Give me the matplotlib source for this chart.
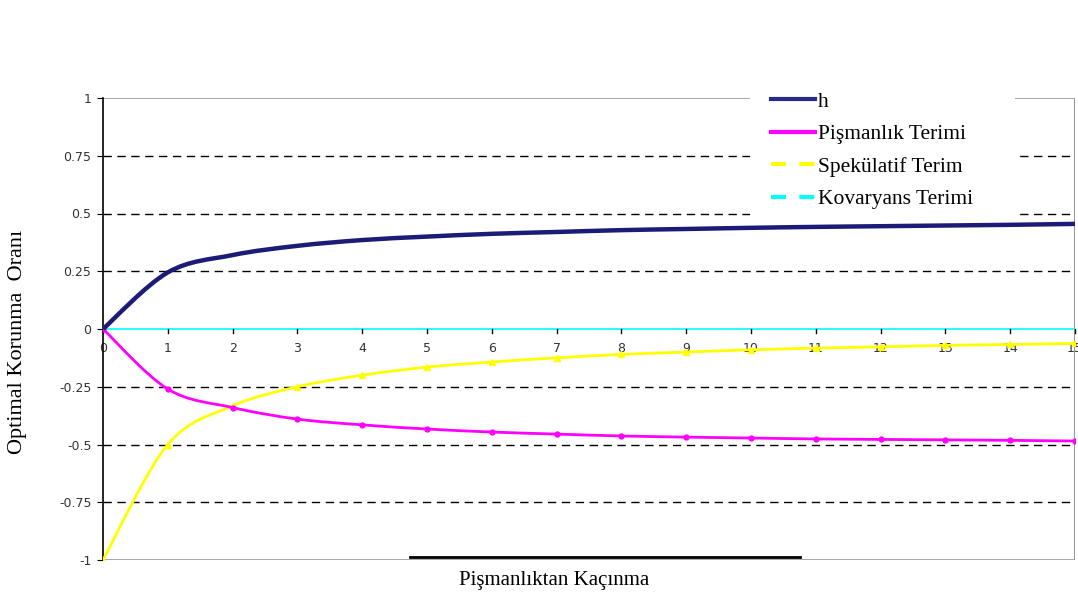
import matplotlib
matplotlib.use('Agg')

import matplotlib.pyplot as plt
import numpy as np
from matplotlib.path import Path
from matplotlib.patches import PathPatch, Rectangle
from matplotlib.lines import Line2D

# values
x_vals = list(range(16))
h_vals = [0.0, 0.245, 0.32, 0.36, 0.385, 0.40, 0.412, 0.42, 0.428, 0.433,
          0.438, 0.442, 0.445, 0.448, 0.451, 0.455]
pisman_vals = [0.0, -0.26, -0.34, -0.39, -0.415, -0.433, -0.446, -0.455, -0.463,
               -0.468, -0.472, -0.476, -0.478, -0.48, -0.482, -0.485]
spek_vals = [-1.0, -0.5, -0.333, -0.25, -0.2, -0.165, -0.143, -0.125, -0.11,
             -0.1, -0.09, -0.083, -0.077, -0.071, -0.067, -0.0625]
kov_vals = [0.0] * 16

labels = ['h', 'Pişmanlık Terimi', 'Spekülatif Terim', 'Kovaryans Terimi']
y_ticks = [1, 0.75, 0.5, 0.25, 0, -0.25, -0.5, -0.75, -1]
y_tick_labels = ['1', '0.75', '0.5', '0.25', '0', '-0.25', '-0.5', '-0.75', '-1']


def smooth_path(xs, ys):
    # Excel-style smoothed line: Catmull-Rom segments as cubic Beziers
    p = np.column_stack([xs, ys]).astype(float)
    p = np.vstack([p[0], p, p[-1]])
    verts = [p[1]]
    codes = [Path.MOVETO]
    for i in range(1, len(p) - 2):
        c1 = p[i] + (p[i + 1] - p[i - 1]) / 6
        c2 = p[i + 1] - (p[i + 2] - p[i]) / 6
        verts += [c1, c2, p[i + 1]]
        codes += [Path.CURVE4] * 3
    return Path(verts, codes)


fig = plt.figure(figsize=(10.78, 5.98), dpi=100)
ax = fig.add_axes([103 / 1078, 38 / 598, 972 / 1078, 462 / 598])

ax.set_xlim(0, 15)
ax.set_ylim(-1, 1)

# dashed horizontal gridlines
for yv in [0.75, 0.5, 0.25, -0.25, -0.5, -0.75]:
    ax.axhline(yv, color='black', lw=1, ls=(0, (6, 4)), zorder=1)

# grey plot frame
ax.axhline(1, color='#999999', lw=1.2, zorder=1)
ax.axhline(-1, color='#999999', lw=1.2, zorder=1)
ax.axvline(15, color='#999999', lw=1.5, zorder=1)

for sp in ['top', 'right', 'bottom']:
    ax.spines[sp].set_visible(False)
ax.spines['left'].set_color('black')
ax.spines['left'].set_linewidth(1.2)

ax.plot(x_vals, kov_vals, color='#00ffff', lw=1.2, zorder=2)

ax.add_patch(PathPatch(smooth_path(x_vals, spek_vals), fill=False,
                       edgecolor='#ffff00', lw=2, zorder=3))
ax.plot(x_vals, spek_vals, ls='none', marker='^', ms=4, color='#ffff00', zorder=3)

ax.add_patch(PathPatch(smooth_path(x_vals, pisman_vals), fill=False,
                       edgecolor='#ff00ff', lw=2, zorder=3))
ax.plot(x_vals, pisman_vals, ls='none', marker='o', ms=3.5, color='#ff00ff', zorder=3)

ax.add_patch(PathPatch(smooth_path(x_vals, h_vals), fill=False,
                       edgecolor='#1c1c78', lw=3.2, zorder=4))

# x axis crosses at zero: small tick marks and labels just under the zero line
ax.set_xticks([])
for xv in x_vals:
    ax.plot([xv, xv], [0, -0.018], color='black', lw=1, zorder=2, clip_on=False)
    ax.text(xv, -0.055, str(xv), ha='center', va='top', fontsize=9,
            color='#333333', family='DejaVu Sans', zorder=2)

ax.set_yticks(y_ticks)
ax.set_yticklabels(y_tick_labels, family='DejaVu Sans')
ax.tick_params(axis='y', direction='out', length=4.3, pad=4, labelsize=9,
               labelcolor='#333333')

# white legend box cutting the frame
ax.add_patch(Rectangle((647 / 972, 344 / 462), 265 / 972, 0.3, transform=ax.transAxes,
                       facecolor='white', edgecolor='none', zorder=5, clip_on=False))

handles = [
    Line2D([], [], color='#2a2a88', lw=3),
    Line2D([], [], color='#ff00ff', lw=3),
    Line2D([], [], color='#ffff00', lw=3, ls=(0, (3.6, 3.2))),
    Line2D([], [], color='#00ffff', lw=3, ls=(0, (3.6, 3.2))),
]
leg = fig.legend(handles, labels, loc='upper left',
                 bbox_to_anchor=(762 / 1078, 1 - 83 / 598),
                 frameon=False, prop={'family': 'Liberation Serif', 'size': 15.5},
                 handlelength=2.05, handletextpad=0.15, labelspacing=0.58,
                 borderaxespad=0)
leg.set_zorder(6)

fig.text(18 / 1078, 1 - 342 / 598, 'Optimal Korunma  Oranı', rotation=90,
         ha='center', va='center', fontsize=16, family='Liberation Serif')
fig.text(554 / 1078, 1 - 580 / 598, 'Pişmanlıktan Kaçınma', ha='center', va='center',
         fontsize=15, family='Liberation Serif')

# page rule from the scanned document
fig.add_artist(Line2D([410 / 1078, 800 / 1078], [1 - 557 / 598, 1 - 557 / 598],
                      color='black', lw=2))

fig.savefig('out.png', dpi=100)
plt.close(fig)
